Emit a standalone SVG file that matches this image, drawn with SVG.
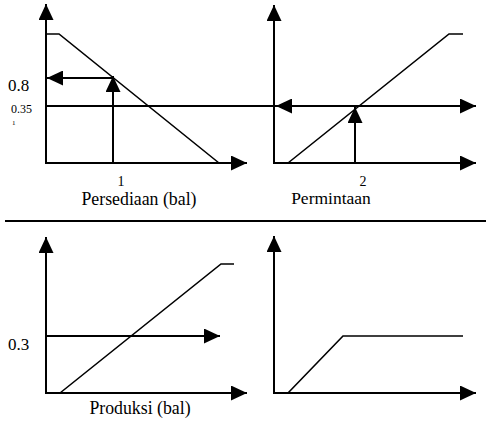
<svg xmlns="http://www.w3.org/2000/svg" width="486" height="423" viewBox="0 0 486 423">
<style>
.ax{stroke:#000;stroke-width:2;fill:none}
.cv{stroke:#000;stroke-width:1.6;fill:none}
text{font-family:'Liberation Serif','Times New Roman',serif;fill:#000}
</style>
<defs>
<marker id="ah" markerUnits="userSpaceOnUse" markerWidth="16" markerHeight="15" refX="16" refY="7.5" orient="auto" viewBox="0 0 16 15">
<path d="M0,0 L16,7.5 L0,15 z" fill="#000"/>
</marker>
</defs>
<rect width="486" height="423" fill="#fff"/>
<g id="panel-persediaan">
<line class="ax" x1="46" y1="164" x2="46" y2="4" marker-end="url(#ah)"/>
<line class="ax" x1="45" y1="163" x2="247" y2="163" marker-end="url(#ah)"/>
<polyline class="cv" points="46,34 59,34 219,163"/>
<text x="8" y="91" font-size="17">0.8</text>
<text x="11" y="113" font-size="12">0.35</text>
<text x="12" y="125" font-size="7">1</text>
<text x="121" y="186" font-size="14" text-anchor="middle">1</text>
<text x="139" y="205" font-size="17.8" text-anchor="middle">Persediaan (bal)</text>
</g>
<g id="panel-permintaan">
<line class="ax" x1="274" y1="164" x2="274" y2="5" marker-end="url(#ah)"/>
<line class="ax" x1="273" y1="163" x2="476" y2="163" marker-end="url(#ah)"/>
<polyline class="cv" points="288,163 449,34 463,34"/>
<text x="363" y="186" font-size="14" text-anchor="middle">2</text>
<text x="331" y="204" font-size="17.5" text-anchor="middle">Permintaan</text>
</g>
<line id="separator" x1="5" y1="221" x2="486" y2="221" stroke="#000" stroke-width="2"/>
<g id="panel-produksi">
<line class="ax" x1="46" y1="394" x2="46" y2="237" marker-end="url(#ah)"/>
<line class="ax" x1="45" y1="393" x2="247" y2="393" marker-end="url(#ah)"/>
<polyline class="cv" points="60,393 221,264 234,264"/>
<text x="8" y="350" font-size="17">0.3</text>
<text x="140" y="414" font-size="17.8" text-anchor="middle">Produksi (bal)</text>
</g>
<g id="panel-output">
<line class="ax" x1="274" y1="394" x2="274" y2="236" marker-end="url(#ah)"/>
<line class="ax" x1="273" y1="393" x2="476" y2="393" marker-end="url(#ah)"/>
<polyline class="cv" points="288,393 343,336 463,336"/>
</g>
<g id="connectors">
<line class="ax" x1="113" y1="163" x2="113" y2="76" marker-end="url(#ah)"/>
<line class="ax" x1="113" y1="78" x2="47" y2="78" marker-end="url(#ah)"/>
<line class="ax" x1="46" y1="106" x2="476" y2="106" marker-end="url(#ah)"/>
<line class="ax" x1="355" y1="106" x2="276" y2="106" stroke-width="3" marker-end="url(#ah)"/>
<line class="ax" x1="355" y1="163" x2="355" y2="107" marker-end="url(#ah)"/>
<line class="ax" x1="46" y1="336" x2="220" y2="336" marker-end="url(#ah)"/>
</g>
</svg>
